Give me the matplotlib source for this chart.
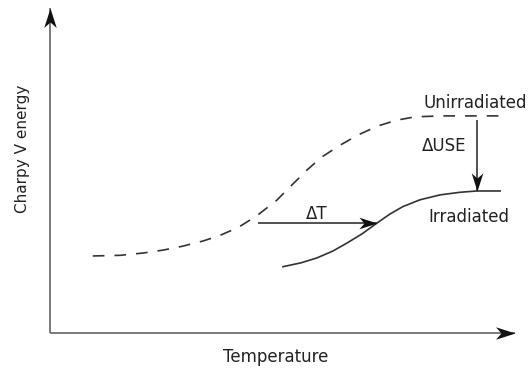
import numpy as np
import matplotlib
matplotlib.use('Agg')
import matplotlib.pyplot as plt
from matplotlib.path import Path

# Charpy transition curves (temperature, energy) in arbitrary units 0..100
unirr_T = [9.2, 15.1, 20.0, 24.3, 28.5, 32.9, 36.5, 40.5, 44.5, 48.8, 52.0, 55.3,
           58.5, 62.4, 66.2, 70.5, 74.6, 78.5, 83.9, 91.8, 97.8]
unirr_E = [23.7, 23.9, 24.6, 25.5, 26.7, 28.3, 30.0, 32.5, 36.1, 40.9, 45.5, 50.2,
           54.2, 57.8, 60.9, 63.7, 65.5, 66.5, 66.8, 66.8, 66.8]

irr_T = [50.1, 54.0, 57.4, 60.8, 63.9, 67.2, 70.3, 73.1, 75.9, 79.6, 83.9, 88.2,
         91.8, 96.8]
irr_E = [20.4, 21.6, 23.1, 25.2, 27.7, 30.6, 33.8, 36.6, 38.9, 41.0, 42.5, 43.3,
         43.7, 43.7]

# shift in transition temperature and drop in upper shelf energy
dT_from, dT_to, dT_level = 44.7, 70.3, 33.8
dUSE_at, dUSE_from, dUSE_to = 91.8, 65.5, 43.7

curve_labels = ['Unirradiated', 'Irradiated']
shift_labels = ['\u0394T', '\u0394USE']
xlabel = 'Temperature'
ylabel = 'Charpy V energy'


def head(angle):
    # stealth-type arrow head with its tip at the origin
    verts = np.array([[0, 0], [-1, 0.32], [-0.72, 0], [-1, -0.32], [0, 0]])
    c, s = np.cos(np.radians(angle)), np.sin(np.radians(angle))
    verts = verts @ np.array([[c, s], [-s, c]])
    codes = [Path.MOVETO, Path.LINETO, Path.LINETO, Path.LINETO, Path.CLOSEPOLY]
    return Path(verts, codes)


def arrow(ax, x0, y0, x1, y1, angle, color, lw, ms):
    ax.plot([x0, x1], [y0, y1], color=color, lw=lw, clip_on=False,
            solid_capstyle='butt')
    ax.plot([x1], [y1], marker=head(angle), markersize=ms, color='#111111',
            markeredgewidth=0, clip_on=False)


fig = plt.figure(figsize=(5.3, 3.72), dpi=100)
ax = fig.add_axes([50 / 530, 39 / 372, 465 / 530, 325 / 372])
ax.set_xlim(0, 100)
ax.set_ylim(0, 100)
ax.axis('off')

# axes with arrow heads
arrow(ax, 0, 0, 100, 0, 0, '#707070', 1.3, 28)
arrow(ax, 0, 0, 0, 100, 90, '#707070', 1.3, 28)

ax.plot(unirr_T, unirr_E, color='#333333', lw=1.2, linestyle=(0, (7, 6)))
ax.plot(irr_T, irr_E, color='#333333', lw=1.2)

arrow(ax, dT_from, dT_level, dT_to, dT_level, 0, '#333333', 1.2, 26)
arrow(ax, dUSE_at, dUSE_from, dUSE_at, dUSE_to, -90, '#333333', 1.2, 26)

tc = '#222222'
fs = 12
ax.text(91.4, 70.8, curve_labels[0], fontsize=fs, color=tc, ha='center', va='center')
ax.text(90.1, 35.7, curve_labels[1], fontsize=fs, color=tc, ha='center', va='center')
ax.text(57.4, 36.6, shift_labels[0], fontsize=fs, color=tc, ha='center', va='center')
ax.text(84.7, 57.5, shift_labels[1], fontsize=fs, color=tc, ha='center', va='center')
ax.text(48.6, -7.4, xlabel, fontsize=fs, color=tc, ha='center', va='center',
        clip_on=False)
fig.text(23 / 530, 1 - 149 / 372, ylabel, fontsize=11, color=tc, rotation=90,
         ha='center', va='center')

fig.savefig('out.png', dpi=100, facecolor='white')
